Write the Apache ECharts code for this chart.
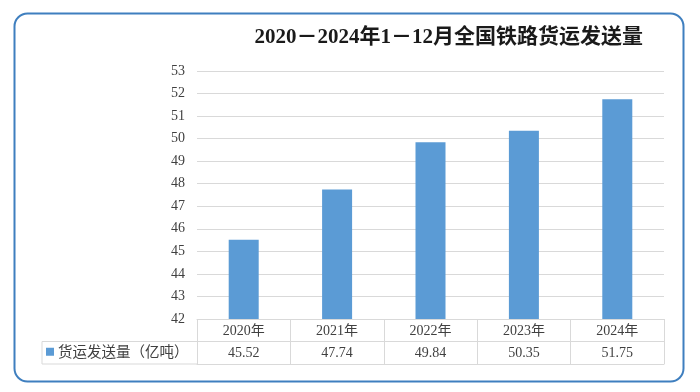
<!DOCTYPE html>
<html><head><meta charset="utf-8">
<script src="https://cdn.jsdelivr.net/npm/echarts@6/dist/echarts.min.js"></script>
<style>html,body{margin:0;padding:0;background:#fff}#c{width:700px;height:392px}</style>
</head><body><div id="c"></div>
<script>
const titleText = '2020－2024年1－12月全国铁路货运发送量';
const categories = ['2020年','2021年','2022年','2023年','2024年'];
const seriesName = '货运发送量（亿吨）';
const values = [45.52, 47.74, 49.84, 50.35, 51.75];
const yMin = 42, yMax = 53, yStep = 1;

const serif = "'Liberation Serif','Noto Sans CJK SC',serif";
const cjk = "'Noto Sans CJK SC',sans-serif";
const G = {left:197, right:36, top:71, bottom:73};
const rowH = 22.5;
const tableLeft = 42;
const lineCol = '#d9d9d9';

const chart = echarts.init(document.getElementById('c'), null, {renderer:'canvas'});
const y0 = 392 - G.bottom;
chart.setOption({
  animation:false,
  backgroundColor:'#fff',
  title:{text:titleText, right:57, top:27, padding:0, textStyle:{fontFamily:serif, fontSize:21, fontWeight:'bold', color:'#1a1a1a'}},
  legend:{left:tableLeft+4, top:y0+rowH+3, padding:0, itemWidth:8, itemHeight:8, icon:'rect', itemGap:4,
    textStyle:{fontFamily:cjk, fontSize:14.5, color:'#404040', padding:[0,0,0,-1]}, data:[seriesName]},
  grid:G,
  xAxis:[
    {type:'category', data:categories, position:'bottom',
     axisLine:{lineStyle:{color:lineCol}}, axisTick:{show:true, length:rowH*2, lineStyle:{color:lineCol}},
     axisLabel:{margin:5, fontFamily:serif, fontSize:14, color:'#404040'}},
    {type:'category', data:categories, position:'bottom', offset:rowH,
     axisLine:{lineStyle:{color:lineCol}}, axisTick:{show:false},
     axisLabel:{margin:5, fontFamily:serif, fontSize:14, color:'#404040', formatter:(v,i)=>values[i].toFixed(2)}},
    {type:'category', data:categories, position:'bottom', offset:rowH*2,
     axisLine:{lineStyle:{color:lineCol}}, axisTick:{show:false}, axisLabel:{show:false}}
  ],
  yAxis:{type:'value', min:yMin, max:yMax, interval:yStep,
    axisLine:{show:false}, axisTick:{show:false},
    splitLine:{lineStyle:{color:lineCol}},
    axisLabel:{margin:12, fontFamily:serif, fontSize:14, color:'#404040'}},
  series:[{name:seriesName, type:'bar', data:values, barWidth:30, itemStyle:{color:'#5b9bd5'}}],
  graphic:[
    {type:'rect', shape:{x:14.5, y:13.5, width:669, height:368, r:13}, style:{fill:'none', stroke:'#3f7fbf', lineWidth:2}, z:100},
    {type:'line', shape:{x1:tableLeft, y1:y0+rowH, x2:G.left, y2:y0+rowH}, style:{stroke:lineCol, lineWidth:1}},
    {type:'line', shape:{x1:tableLeft, y1:y0+rowH*2, x2:G.left, y2:y0+rowH*2}, style:{stroke:lineCol, lineWidth:1}},
    {type:'line', shape:{x1:tableLeft, y1:y0+rowH, x2:tableLeft, y2:y0+rowH*2}, style:{stroke:lineCol, lineWidth:1}}
  ]
});
</script></body></html>
